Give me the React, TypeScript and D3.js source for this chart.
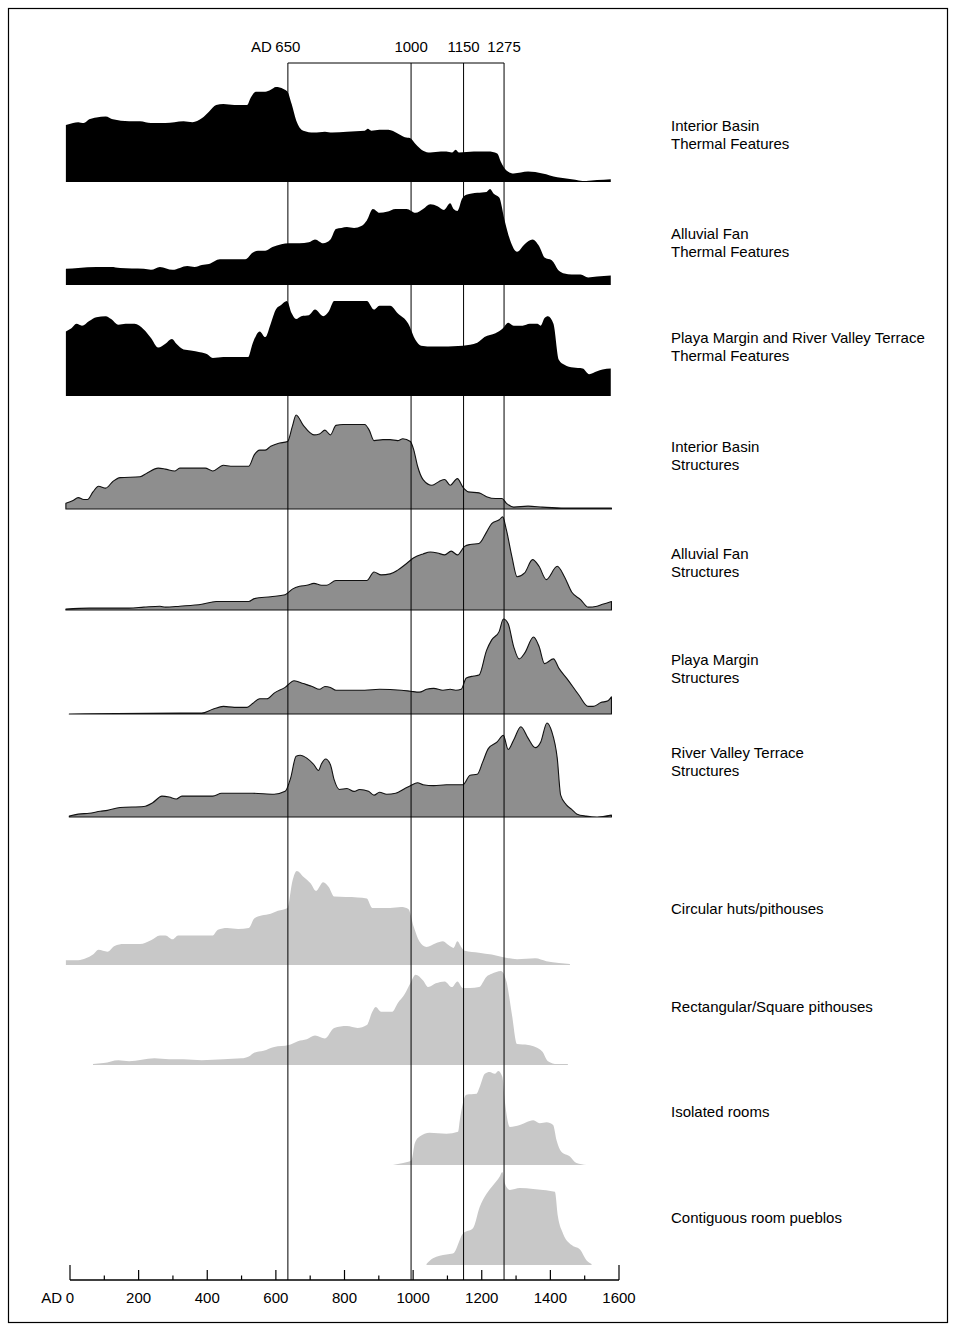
import React from "react";
import * as d3 from "d3";

type Pt = [number, number];

// ---------- DATA (year AD, relative frequency 0-100 of panel peak) ----------
const interiorBasinThermal: Pt[] = [[-12,60],[9,62],[24,63],[40,62],[56,66],[77,68],[104,69],[125,66],[172,64],[204,64],[236,62],[278,62],[331,64],[357,63],[384,67],[405,74],[426,81],[447,82],[479,81],[516,81],[527,89],[542,95],[569,95],[585,97],[600,100],[622,98],[634,95],[646,82],[659,65],[680,54],[711,52],[743,53],[764,52],[807,53],[859,54],[868,56],[878,54],[902,55],[928,55],[955,51],[976,47],[992,46],[1007,40],[1029,33],[1050,31],[1081,32],[1097,32],[1113,31],[1124,34],[1134,31],[1177,32],[1219,32],[1245,30],[1256,21],[1272,12],[1293,9],[1335,11],[1377,9],[1420,5],[1462,3],[1504,1],[1536,2],[1576,3]];

const alluvialFanThermal: Pt[] = [[-12,17],[24,18],[77,19],[120,19],[146,18],[215,17],[236,16],[262,19],[299,16],[342,20],[363,19],[384,21],[405,22],[437,27],[511,27],[532,34],[548,36],[569,36],[590,40],[616,43],[638,44],[669,44],[696,45],[714,48],[738,44],[759,48],[775,59],[791,60],[807,61],[828,60],[849,62],[865,68],[883,80],[902,76],[923,77],[949,80],[981,80],[1007,76],[1029,80],[1050,85],[1071,83],[1090,79],[1108,86],[1118,80],[1129,78],[1143,91],[1155,95],[1187,97],[1214,98],[1224,101],[1235,96],[1251,92],[1266,69],[1282,48],[1303,35],[1325,43],[1348,48],[1367,41],[1383,29],[1404,26],[1425,15],[1441,12],[1462,11],[1488,11],[1510,8],[1536,9],[1576,10]];

const playaRiverThermal: Pt[] = [[-12,68],[3,71],[19,76],[35,74],[56,79],[77,83],[104,84],[120,81],[141,75],[162,76],[188,76],[215,70],[236,61],[257,51],[278,55],[297,60],[310,55],[331,49],[352,48],[379,46],[400,44],[416,40],[447,41],[519,41],[532,55],[553,68],[569,62],[585,76],[600,91],[616,96],[632,100],[646,87],[659,81],[674,84],[696,85],[714,91],[738,84],[754,89],[770,100],[865,100],[886,91],[902,95],[933,95],[955,87],[986,76],[1007,59],[1023,53],[1060,52],[1145,53],[1187,56],[1208,62],[1240,66],[1261,71],[1277,77],[1293,74],[1319,74],[1340,76],[1362,76],[1372,74],[1383,82],[1393,84],[1409,76],[1425,38],[1441,33],[1467,30],[1494,29],[1513,23],[1536,26],[1552,28],[1576,29]];

const interiorBasinStructures: Pt[] = [[-12,6],[9,9],[24,12],[40,10],[51,10],[67,18],[83,24],[104,22],[125,29],[146,33],[204,34],[225,38],[257,43],[278,42],[305,40],[320,43],[394,43],[416,40],[447,46],[468,45],[521,45],[537,57],[553,62],[569,62],[585,66],[606,69],[634,71],[648,87],[659,99],[680,88],[711,78],[727,79],[743,83],[759,78],[775,88],[796,89],[859,89],[872,83],[886,72],[912,73],[933,73],[955,72],[970,74],[992,71],[1002,62],[1013,45],[1029,31],[1055,25],[1076,29],[1092,31],[1108,25],[1129,32],[1145,23],[1161,18],[1192,17],[1214,13],[1240,11],[1259,11],[1272,6],[1293,2],[1335,3],[1377,2],[1441,1],[1578,1]];

const alluvialFanStructures: Pt[] = [[-12,1],[56,2],[120,2],[172,2],[215,3],[262,4],[278,3],[320,4],[384,6],[426,9],[521,9],[537,12],[585,14],[627,16],[648,22],[669,25],[690,26],[711,28],[733,26],[748,26],[775,31],[865,31],[886,40],[907,37],[933,38],[955,42],[981,49],[1002,55],[1029,59],[1050,61],[1071,60],[1092,58],[1111,62],[1129,58],[1150,67],[1166,69],[1192,70],[1214,82],[1229,91],[1251,95],[1261,98],[1272,84],[1288,56],[1303,35],[1325,39],[1348,53],[1367,46],[1388,32],[1420,46],[1441,35],[1462,19],[1488,11],[1510,3],[1536,4],[1552,6],[1578,9]];

const playaMarginStructures: Pt[] = [[-2,0],[320,1],[384,1],[416,5],[447,8],[479,7],[516,7],[532,11],[553,16],[574,16],[595,22],[627,28],[653,35],[680,32],[706,29],[727,26],[743,29],[759,28],[775,25],[859,25],[902,26],[965,25],[992,24],[1018,23],[1039,26],[1060,27],[1087,25],[1108,26],[1124,25],[1140,26],[1155,38],[1177,40],[1192,41],[1214,67],[1229,78],[1251,87],[1263,100],[1277,95],[1293,71],[1309,58],[1325,64],[1351,81],[1367,71],[1383,53],[1409,58],[1425,48],[1451,36],[1483,20],[1510,8],[1525,8],[1547,12],[1568,14],[1578,18]];

const riverValleyStructures: Pt[] = [[-2,1],[24,3],[56,4],[88,6],[109,7],[146,10],[215,11],[241,15],[268,22],[289,21],[310,19],[326,22],[416,22],[442,25],[532,25],[595,24],[627,27],[643,41],[659,64],[671,65],[690,62],[711,55],[724,49],[733,56],[745,61],[759,55],[770,39],[785,29],[807,30],[828,27],[844,29],[870,27],[886,23],[902,26],[923,24],[949,25],[976,30],[992,33],[1013,36],[1029,34],[1060,33],[1097,34],[1124,34],[1145,34],[1166,44],[1187,45],[1203,58],[1219,72],[1245,79],[1263,86],[1277,71],[1293,81],[1314,95],[1335,83],[1356,73],[1372,79],[1390,99],[1404,90],[1420,62],[1430,23],[1446,13],[1462,8],[1478,3],[1504,1],[1536,0],[1578,2]];

const circularHuts: Pt[] = [[-12,5],[24,5],[46,7],[67,11],[83,16],[109,14],[130,20],[157,22],[204,22],[236,26],[262,31],[278,31],[299,27],[315,31],[416,31],[431,37],[458,39],[490,38],[521,39],[537,49],[558,52],[585,54],[606,57],[634,60],[648,88],[661,99],[680,93],[701,86],[717,78],[738,87],[754,82],[770,72],[838,71],[865,70],[881,60],[933,60],[965,61],[986,59],[1002,40],[1018,25],[1039,19],[1066,23],[1087,25],[1103,21],[1118,18],[1129,25],[1140,19],[1150,15],[1192,13],[1229,11],[1266,8],[1303,6],[1356,7],[1388,4],[1425,2],[1457,1]];

const rectPithouses: Pt[] = [[67,1],[98,2],[141,5],[172,4],[246,7],[289,6],[331,6],[384,5],[447,6],[500,7],[521,9],[537,13],[564,15],[595,19],[638,21],[664,25],[690,27],[714,31],[743,28],[770,39],[807,41],[838,39],[865,42],[881,56],[891,61],[907,56],[939,56],[955,65],[976,75],[992,86],[1007,95],[1029,89],[1044,82],[1066,86],[1092,88],[1113,82],[1129,88],[1145,81],[1166,81],[1192,82],[1214,93],[1229,96],[1256,99],[1272,88],[1288,53],[1303,22],[1335,21],[1356,19],[1377,14],[1393,4],[1420,1],[1451,1]];

const isolatedRooms: Pt[] = [[941,0],[971,2],[995,5],[1005,23],[1019,30],[1048,34],[1097,33],[1131,35],[1136,47],[1145,65],[1155,74],[1185,75],[1194,82],[1209,96],[1223,98],[1238,96],[1248,99],[1260,93],[1267,68],[1282,40],[1311,42],[1330,45],[1350,47],[1369,44],[1389,45],[1408,42],[1418,26],[1432,14],[1457,9],[1476,2],[1505,0]];

const contiguousPueblos: Pt[] = [[1039,1],[1058,7],[1097,11],[1116,12],[1145,33],[1175,39],[1194,61],[1214,75],[1233,84],[1252,93],[1260,98],[1267,86],[1282,79],[1311,81],[1350,80],[1379,79],[1413,77],[1422,51],[1437,33],[1462,21],[1487,16],[1505,5],[1520,1]];

const seriesList: Pt[][] = [
  interiorBasinThermal, alluvialFanThermal, playaRiverThermal,
  interiorBasinStructures, alluvialFanStructures, playaMarginStructures, riverValleyStructures,
  circularHuts, rectPithouses, isolatedRooms, contiguousPueblos,
];

const seriesKinds = ["thermal","thermal","thermal","structure","structure","structure","structure","type","type","type","type"];

const seriesLabels: string[][] = [
  ["Interior Basin", "Thermal Features"],
  ["Alluvial Fan", "Thermal Features"],
  ["Playa Margin and River Valley Terrace", "Thermal Features"],
  ["Interior Basin", "Structures"],
  ["Alluvial Fan", "Structures"],
  ["Playa Margin", "Structures"],
  ["River Valley Terrace", "Structures"],
  ["Circular huts/pithouses"],
  ["Rectangular/Square pithouses"],
  ["Isolated rooms"],
  ["Contiguous room pueblos"],
];

const periodLabels = ["650", "1000", "1150", "1275"];
const periodLineYears = [635, 994, 1147, 1265];

const axisMinorTicks = d3.range(0, 1601, 100);
const axisLabelYears = [0, 200, 400, 600, 800, 1000, 1200, 1400, 1600];

// ---------- LAYOUT ----------
const W = 956;
const H = 1331;
const panelBaselines = [182, 285, 396, 509, 610, 714, 817, 965, 1065, 1165, 1265];
const labelCenters = [126, 234, 338, 447, 554, 660, 753, 909, 1007, 1112, 1218];
const PANEL_H = 95;
const AXIS_Y = 1280;
const REF_TOP = 63;
const FONT = "'Liberation Sans', Arial, Helvetica, sans-serif";
const FS = 15;

const fills: Record<string, string> = { thermal: "#000", structure: "#8e8e8e", type: "#c8c8c8" };
const strokes: Record<string, string> = { thermal: "none", structure: "#111", type: "none" };

export default function App() {
  const x = d3.scaleLinear().domain([0, 1600]).range([70, 619]);

  return (
    <svg width={W} height={H} style={{ position: "absolute", left: 0, top: 0, background: "#fff" }} fontFamily={FONT}>
      <rect x={0} y={0} width={W} height={H} fill="#fff" />
      <rect x={8.5} y={8.5} width={939} height={1314} fill="none" stroke="#000" strokeWidth={1.2} />

      {seriesList.map((data, i) => {
        const base = panelBaselines[i];
        const y = d3.scaleLinear().domain([0, 100]).range([base, base - PANEL_H]);
        const area = d3.area<Pt>()
          .x((d) => x(d[0]))
          .y0(base)
          .y1((d) => y(d[1]))
          .curve(d3.curveMonotoneX);
        const kind = seriesKinds[i];
        return (
          <path key={"s" + i} d={area(data) || ""} fill={fills[kind]}
            stroke={strokes[kind]} strokeWidth={kind === "structure" ? 1.1 : 0} strokeLinejoin="round" />
        );
      })}

      {/* period reference lines */}
      {periodLineYears.map((yr, i) => (
        <line key={"pl" + i} x1={x(yr)} x2={x(yr)} y1={REF_TOP} y2={AXIS_Y} stroke="#000" strokeWidth={1} />
      ))}
      <line x1={x(periodLineYears[0])} x2={x(periodLineYears[periodLineYears.length - 1])} y1={REF_TOP} y2={REF_TOP} stroke="#000" strokeWidth={1} />
      {periodLabels.map((lab, i) => (
        <text key={"plt" + i} x={x(periodLineYears[i])} y={REF_TOP - 11} fontSize={FS} textAnchor="middle" fill="#000">{lab}</text>
      ))}
      <text x={x(periodLineYears[0]) - 16} y={REF_TOP - 11} fontSize={FS} textAnchor="end" fill="#000">AD</text>

      {/* series labels */}
      {seriesLabels.map((lines, i) => (
        <text key={"lab" + i} x={671} y={labelCenters[i] + 5} fontSize={FS} fill="#000">
          {lines.map((ln, j) => (
            <tspan key={j} x={671} dy={j === 0 ? 0 : 17.5}>{ln}</tspan>
          ))}
        </text>
      ))}

      {/* axis */}
      <line x1={x(0)} x2={x(1600)} y1={AXIS_Y} y2={AXIS_Y} stroke="#000" strokeWidth={1.3} />
      {axisMinorTicks.map((t) => {
        const len = t === 0 || t === 1600 ? 15 : t % 200 === 0 ? 10 : 4.5;
        return <line key={"t" + t} x1={x(t)} x2={x(t)} y1={AXIS_Y} y2={AXIS_Y - len} stroke="#000" strokeWidth={1.2} />;
      })}
      {axisLabelYears.map((t) => (
        <text key={"tl" + t} x={x(t)} y={AXIS_Y + 23} fontSize={FS} textAnchor="middle" fill="#000">{t}</text>
      ))}
      <text x={x(0) - 8} y={AXIS_Y + 23} fontSize={FS} textAnchor="end" fill="#000">AD</text>
    </svg>
  );
}
